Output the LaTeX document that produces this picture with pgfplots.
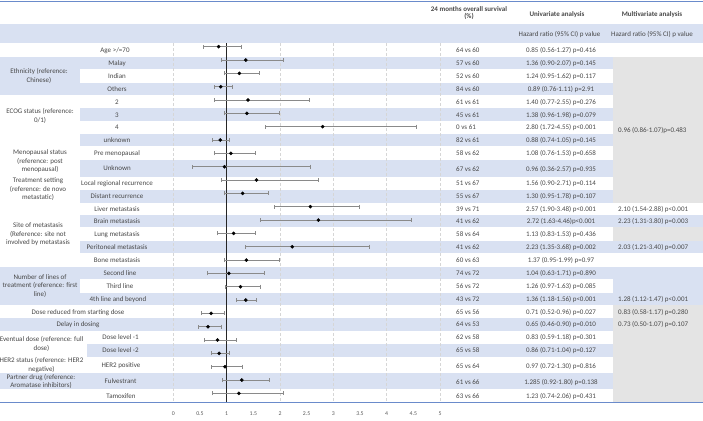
\documentclass[border=0pt]{standalone}
\usepackage{pgfplots}
\usepackage{pgfplotstable}
\pgfplotsset{compat=1.18}
\usepackage{fontspec}
\setmainfont{Carlito}
\definecolor{band}{HTML}{D9E1F2}
\definecolor{gcell}{HTML}{E4E4E4}
\definecolor{txt}{HTML}{474747}
\definecolor{ticktxt}{HTML}{595959}
\definecolor{rulec}{HTML}{6A8BCB}
\definecolor{gridc}{HTML}{D6D6D6}
\definecolor{errc}{HTML}{8A8A8A}
\tikzset{
  c/.style={font=\fontsize{7}{8.5}\selectfont, text=txt, inner sep=0pt, anchor=mid},
  l/.style={font=\fontsize{7}{8.5}\selectfont, text=txt, inner sep=0pt, anchor=mid west},
  m/.style={font=\fontsize{7}{8.5}\selectfont, text=txt, inner sep=0pt, align=center, anchor=center},
  h/.style={font=\fontsize{7}{6.3}\selectfont\bfseries, text=txt, inner sep=0pt, align=center, anchor=center},
}
\newcommand{\rowtxt}[3]{\node[l] at (456,#1) {#2}; \node[c] at (561,#1) {#3};}
\pgfplotstableread{
row hr lo hi
1 0.85 0.56 1.27
2 1.36 0.90 2.07
3 1.24 0.95 1.62
4 0.89 0.76 1.11
5 1.40 0.77 2.55
6 1.38 0.96 1.98
7 2.80 1.72 4.55
8 0.88 0.74 1.05
9 1.08 0.76 1.53
10 0.96 0.36 2.57
11 1.56 0.90 2.71
12 1.30 0.95 1.78
13 2.57 1.90 3.48
14 2.72 1.63 4.46
15 1.13 0.83 1.53
16 2.23 1.35 3.68
17 1.37 0.95 1.99
18 1.04 0.63 1.71
19 1.26 0.97 1.63
20 1.36 1.18 1.56
21 0.71 0.52 0.96
22 0.65 0.46 0.90
23 0.83 0.59 1.18
24 0.86 0.71 1.04
25 0.97 0.72 1.30
26 1.285 0.92 1.80
27 1.23 0.74 2.06
}\hrdata
\begin{document}
\begin{tikzpicture}
\path[use as bounding box] (0,0) rectangle (703pt,420pt);
\begin{scope}[x=1pt,y=-1pt,shift={(0pt,420pt)}]
% header band
\fill[band] (0,24) rectangle (703,43.3);
% group cells
\fill[band] (0,56.7) rectangle (80,95);
\fill[band] (0,266.7) rectangle (80,305);
% row bands
\foreach \a/\b/\xs in {56.7/69.3/80, 82.7/95/80, 108.3/121/80, 134/146/80, 160/176.7/80, 190/202.7/80, 215/227.3/80, 240.7/253.3/80, 266.7/279.3/80, 292.7/305/80, 318.3/330.7/0, 344/356.7/87, 373.3/389.3/0}
  {\fill[band] (\xs,\a) rectangle (703,\b);}
% multivariate cells
\fill[gcell] (612.7,56.7) rectangle (703,202.7);
\fill[gcell] (612.7,227.3) rectangle (703,240.7);
\fill[gcell] (612.7,305) rectangle (703,402.7);
\fill[band] (612.7,266.7) rectangle (703,292.7);
% headers
\node[h] at (469,13) {24 months overall survival\\(\%)};
\node[h] at (557,15) {Univariate analysis};
\node[h] at (652,15) {Multivariate analysis};
\node[c] at (559.5,33.7) {Hazard ratio (95\% CI) p value};
\node[c] at (652,33.7) {Hazard ratio (95\% CI) p value};
% group labels
\node[m] at (39,76) {Ethnicity (reference:\\Chinese)};
\node[m] at (40,116) {ECOG status (reference:\\0/1)};
\node[m] at (40,161.4) {Menopausal status\\(reference: post\\menopausal)};
\node[m] at (38,189.5) {Treatment setting\\(reference: de novo\\metastatic)};
\node[m] at (38,234.5) {Site of metastasis\\(Reference: site not\\involved by metastasis};
\node[m] at (40,285.8) {Number of lines of\\treatment (reference: first\\line)};
\node[c] at (78,311.7) {Dose reduced from starting dose};
\node[c] at (78,324.5) {Delay in dosing};
\node[m] at (41.5,343.7) {Eventual dose (reference: full\\dose)};
\node[m] at (41.5,365) {HER2 status (reference: HER2\\negative)};
\node[m] at (41,381.3) {Partner drug (reference:\\Aromatase inhibitors)};
% subgroup labels
\node[c] at (115,50) {Age >/=70};
\node[c] at (117,63) {Malay};
\node[c] at (117,76) {Indian};
\node[c] at (117,88.9) {Others};
\node[c] at (117,101.7) {2};
\node[c] at (117,114.7) {3};
\node[c] at (117,127.5) {4};
\node[c] at (117,140) {unknown};
\node[c] at (117,153) {Pre menopausal};
\node[c] at (117,168.3) {Unknown};
\node[c] at (117,183.3) {Local regional recurrence};
\node[c] at (117,196.3) {Distant recurrence};
\node[c] at (117,208.9) {Liver metastasis};
\node[c] at (117,221.2) {Brain metastasis};
\node[c] at (117,234) {Lung metastasis};
\node[c] at (117,247) {Peritoneal metastasis};
\node[c] at (117,260) {Bone metastasis};
\node[c] at (120,273) {Second line};
\node[c] at (120,286) {Third line};
\node[c] at (118,298.9) {4th line and beyond};
\node[c] at (120.5,337.3) {Dose level -1};
\node[c] at (120.5,350.3) {Dose level -2};
\node[c] at (121,365) {HER2 positive};
\node[c] at (120.5,381.3) {Fulvestrant};
\node[c] at (121,396) {Tamoxifen};
% right columns
\rowtxt{50}{64 vs 60}{0.85 (0.56-1.27) p=0.416}
\rowtxt{63}{57 vs 60}{1.36 (0.90-2.07) p=0.145}
\rowtxt{76}{52 vs 60}{1.24 (0.95-1.62) p=0.117}
\rowtxt{88.9}{84 vs 60}{0.89 (0.76-1.11) p=2.91}
\rowtxt{101.7}{61 vs 61}{1.40 (0.77-2.55) p=0.276}
\rowtxt{114.7}{45 vs 61}{1.38 (0.96-1.98) p=0.079}
\rowtxt{127.5}{0 vs 61}{2.80 (1.72-4.55) p<0.001}
\rowtxt{140}{82 vs 61}{0.88 (0.74-1.05) p=0.145}
\rowtxt{153}{58 vs 62}{1.08 (0.76-1.53) p=0.658}
\rowtxt{169}{67 vs 62}{0.96 (0.36-2.57) p=0.935}
\rowtxt{183.3}{51 vs 67}{1.56 (0.90-2.71) p=0.114}
\rowtxt{196.3}{55 vs 67}{1.30 (0.95-1.78) p=0.107}
\rowtxt{208.9}{39 vs 71}{2.57 (1.90-3.48) p<0.001}
\rowtxt{221.2}{41 vs 62}{2.72 (1.63-4.46)p<0.001}
\rowtxt{234}{58 vs 64}{1.13 (0.83-1.53) p=0.436}
\rowtxt{247}{41 vs 62}{2.23 (1.35-3.68) p=0.002}
\rowtxt{260}{60 vs 63}{1.37 (0.95-1.99) p=0.97}
\rowtxt{273}{74 vs 72}{1.04 (0.63-1.71) p=0.890}
\rowtxt{286}{56 vs 72}{1.26 (0.97-1.63) p=0.085}
\rowtxt{298.9}{43 vs 72}{1.36 (1.18-1.56) p<0.001}
\rowtxt{311.7}{65 vs 56}{0.71 (0.52-0.96) p=0.027}
\rowtxt{324.5}{64 vs 53}{0.65 (0.46-0.90) p=0.010}
\rowtxt{337.3}{62 vs 58}{0.83 (0.59-1.18) p=0.301}
\rowtxt{350.3}{65 vs 58}{0.86 (0.71-1.04) p=0.127}
\rowtxt{366}{65 vs 64}{0.97 (0.72-1.30) p=0.816}
\rowtxt{382}{61 vs 66}{1.285 (0.92-1.80) p=0.138}
\rowtxt{396}{63 vs 66}{1.23 (0.74-2.06) p=0.431}
% multivariate
\node[l] at (618,129.7) {0.96 (0.86-1.07)p=0.483};
\node[l] at (618,208.9) {2.10 (1.54-2.88) p<0.001};
\node[l] at (618,221.2) {2.23 (1.31-3.80) p=0.003};
\node[l] at (618,247) {2.03 (1.21-3.40) p=0.007};
\node[l] at (618,298.9) {1.28 (1.12-1.47) p<0.001};
\node[l] at (618,311.7) {0.83 (0.58-1.17) p=0.280};
\node[l] at (618,324.5) {0.73 (0.50-1.07) p=0.107};
\end{scope}
\begin{axis}[
  at={(173.3pt,17.3pt)}, anchor=south west,
  scale only axis, width=266.7pt, height=359.4pt,
  xmin=0, xmax=5, ymin=0.745, ymax=27.7, y dir=reverse,
  axis line style={draw=none},
  ytick=\empty,
  xtick={0,0.5,...,5},
  major tick length=0pt, tick style={draw=none},
  xticklabel style={font=\fontsize{5.8}{6}\selectfont, text=ticktxt, yshift=-5.5pt},
  /pgf/number format/assume math mode=true,
  clip=false,
]
\draw[densely dashed, gridc, line width=0.6pt] (axis cs:0,0.745) -- (axis cs:0,27.7);
\draw[densely dashed, gridc, line width=0.6pt] (axis cs:2,0.745) -- (axis cs:2,27.7);
\draw[densely dashed, gridc, line width=0.6pt] (axis cs:3,0.745) -- (axis cs:3,27.7);
\draw[densely dashed, gridc, line width=0.6pt] (axis cs:4,0.745) -- (axis cs:4,27.7);
\draw[densely dashed, gridc, line width=0.6pt] (axis cs:5,0.745) -- (axis cs:5,27.7);
\draw[black!85, line width=1.1pt] (axis cs:1,0.745) -- (axis cs:1,27.7);
\addplot[only marks, mark=*, mark size=1.6pt, black,
  error bars/.cd, x dir=both, x explicit, error mark=|,
  error bar style={errc, line width=0.55pt},
  error mark options={errc, line width=0.55pt, mark size=2pt}]
  table[x=hr, y=row, x error plus expr=\thisrow{hi}-\thisrow{hr}, x error minus expr=\thisrow{hr}-\thisrow{lo}] {\hrdata};
\end{axis}
\begin{scope}[x=1pt,y=-1pt,shift={(0pt,420pt)}]
\draw[rulec, line width=0.8pt] (0,1.5) -- (703,1.5);
\draw[rulec, line width=0.8pt] (0,402.7) -- (703,402.7);
\end{scope}
\end{tikzpicture}
\end{document}
